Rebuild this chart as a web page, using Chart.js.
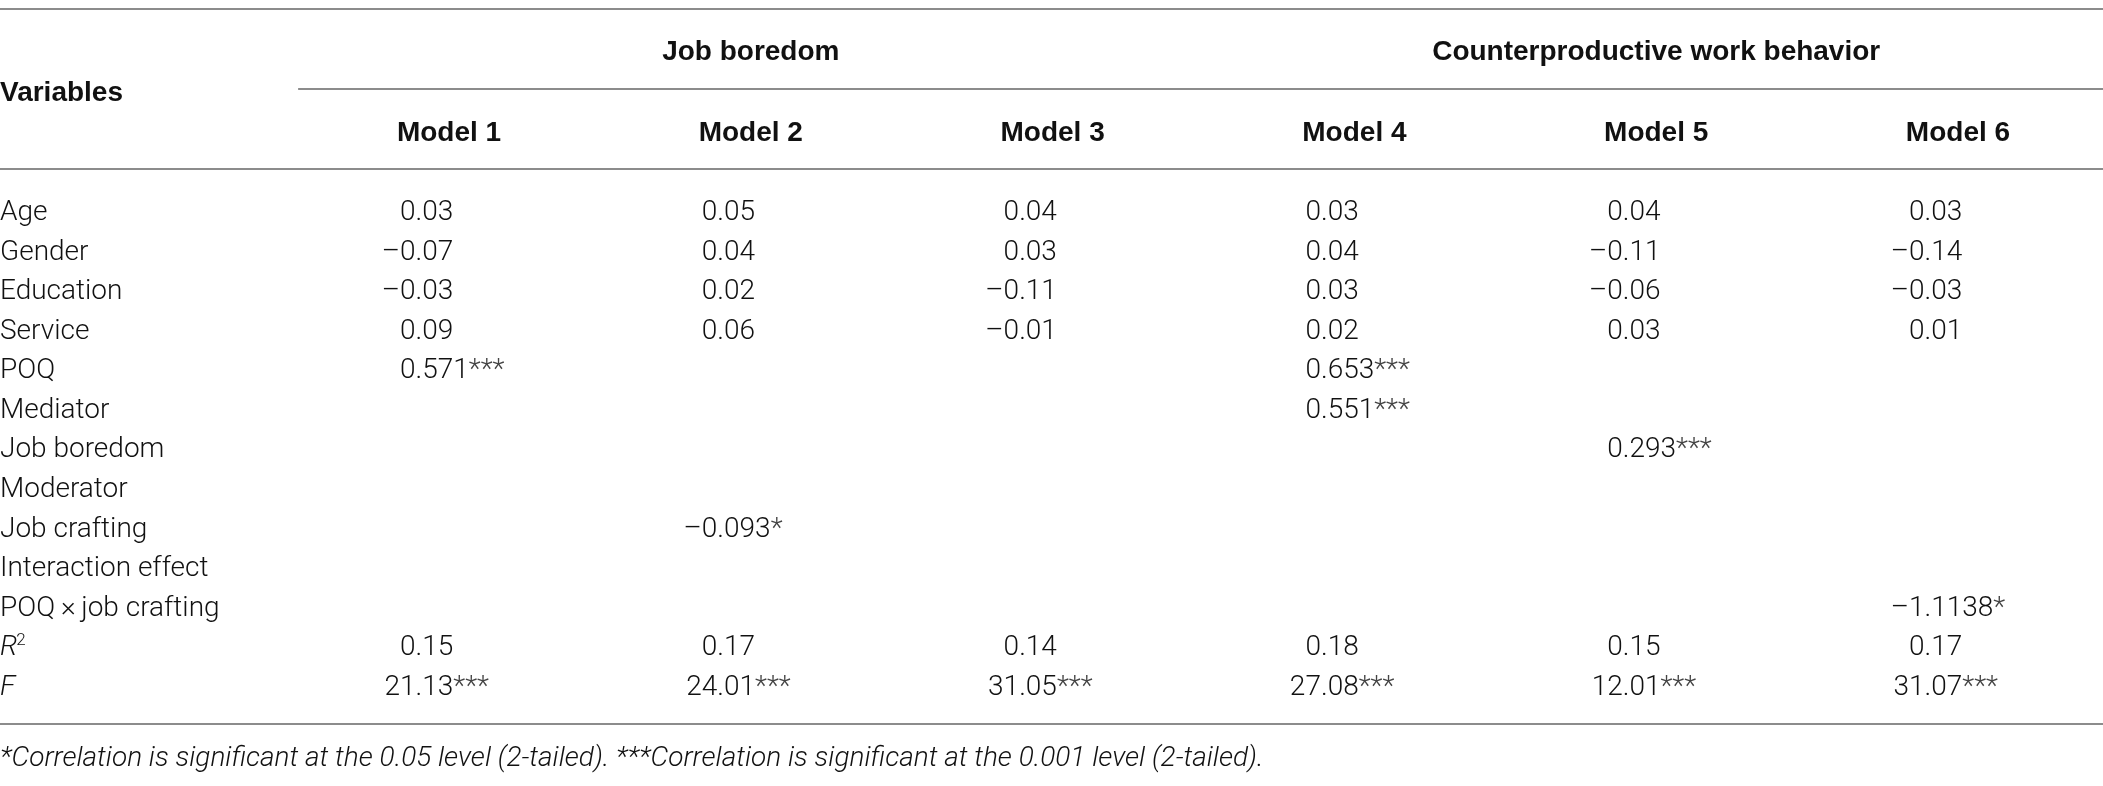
<!DOCTYPE html>
<html>
<head>
<meta charset="utf-8">
<script src="https://cdn.jsdelivr.net/npm/chart.js@4.4.0/dist/chart.umd.min.js"></script>
<style>
  html, body { margin: 0; padding: 0; background: #fff; }
  #wrap { position: relative; width: 2103px; height: 786px; }
</style>
</head>
<body>
<div id="wrap"><canvas id="table-chart"></canvas></div>
<script>
// rows of the table (left column)
const rowLabels = ['Age', 'Gender', 'Education', 'Service', 'POQ', 'Mediator', 'Job boredom',
  'Moderator', 'Job crafting', 'Interaction effect', 'POQ\u2009\u00d7\u2009job crafting', 'R\u00b2', 'F'];
const modelLabels = ['Model 1', 'Model 2', 'Model 3', 'Model 4', 'Model 5', 'Model 6'];
const groupLabels = ['Job boredom', 'Counterproductive work behavior'];
const footnote = '*Correlation is significant at the 0.05 level (2-tailed). ***Correlation is significant at the 0.001 level (2-tailed).';

// coefficients per model, null = empty cell
const model1 = [0.03, -0.07, -0.03, 0.09, 0.571, null, null, null, null, null, null, 0.15, 21.13];
const model2 = [0.05, 0.04, 0.02, 0.06, null, null, null, null, -0.093, null, null, 0.17, 24.01];
const model3 = [0.04, 0.03, -0.11, -0.01, null, null, null, null, null, null, null, 0.14, 31.05];
const model4 = [0.03, 0.04, 0.03, 0.02, 0.653, 0.551, null, null, null, null, null, 0.18, 27.08];
const model5 = [0.04, -0.11, -0.06, 0.03, null, null, 0.293, null, null, null, null, 0.15, 12.01];
const model6 = [0.03, -0.14, -0.03, 0.01, null, null, null, null, null, null, -1.1138, 0.17, 31.07];

// significance marks
const model1Sig = ['', '', '', '', '***', '', '', '', '', '', '', '', '***'];
const model2Sig = ['', '', '', '', '', '', '', '', '*', '', '', '', '***'];
const model3Sig = ['', '', '', '', '', '', '', '', '', '', '', '', '***'];
const model4Sig = ['', '', '', '', '***', '***', '', '', '', '', '', '', '***'];
const model5Sig = ['', '', '', '', '', '', '***', '', '', '', '', '', '***'];
const model6Sig = ['', '', '', '', '', '', '', '', '', '', '*', '', '***'];

const models = [model1, model2, model3, model4, model5, model6];
const sigs = [model1Sig, model2Sig, model3Sig, model4Sig, model5Sig, model6Sig];

const X_MIN = -0.4878, X_MAX = 6.4805;
const Y_MIN = -5.306, Y_MAX = 14.553;

const BODY = '300 28px Roboto, "Liberation Sans", sans-serif';
const BOLD = 'bold 28px "Liberation Sans", Arial, sans-serif';
const ITAL = 'italic 300 28px Roboto, "Liberation Sans", sans-serif';
const INK = '#111';

function fmt(v) {
  return (v < 0 ? '\u2013' : '') + String(Math.abs(v));
}

const ctx = document.getElementById('table-chart').getContext('2d');

const tablePlugin = {
  id: 'tableText',
  afterDatasetsDraw(chart) {
    const { ctx, chartArea, scales: { x, y } } = chart;
    const base = 10; // offset from row centre to baseline
    ctx.save();
    ctx.textBaseline = 'alphabetic';

    // horizontal rules
    ctx.strokeStyle = '#8c8c8c';
    ctx.lineWidth = 2;
    const rule = (v, x0) => {
      const py = Math.round(y.getPixelForValue(v));
      ctx.beginPath();
      ctx.moveTo(x0, py);
      ctx.lineTo(chartArea.right, py);
      ctx.stroke();
    };
    rule(-5.08, chartArea.left);
    rule(-3.05, x.getPixelForValue(0.5));
    rule(-1.04, chartArea.left);
    rule(12.99, chartArea.left);

    // headers
    ctx.fillStyle = INK;
    ctx.font = BOLD;
    ctx.textAlign = 'left';
    ctx.fillText('Variables', chartArea.left, y.getPixelForValue(-3) + base);
    ctx.textAlign = 'center';
    ctx.fillText(groupLabels[0], x.getPixelForValue(2), y.getPixelForValue(-4.04) + base);
    ctx.fillText(groupLabels[1], x.getPixelForValue(5), y.getPixelForValue(-4.04) + base);
    modelLabels.forEach((m, k) => {
      ctx.fillText(m, x.getPixelForValue(k + 1), y.getPixelForValue(-2) + base);
    });

    // cells
    chart.data.datasets.forEach((ds, di) => {
      const meta = chart.getDatasetMeta(di);
      meta.data.forEach((pt, i) => {
        const raw = ds.data[i];
        const py = pt.y + base;
        ctx.textAlign = 'left';
        if (raw.label !== undefined) {
          if (raw.label === 'R\u00b2') {
            ctx.font = ITAL;
            ctx.fillText('R', pt.x, py);
            const w = ctx.measureText('R').width;
            ctx.font = '300 17px Roboto, "Liberation Sans", sans-serif';
            ctx.fillText('2', pt.x + w - 1, py - 10);
          } else if (raw.label === 'F') {
            ctx.font = ITAL;
            ctx.fillText('F', pt.x, py);
          } else {
            ctx.font = BODY;
            ctx.fillText(raw.label, pt.x, py);
          }
          return;
        }
        ctx.font = BODY;
        const s = fmt(raw.v);
        const zeroStart = pt.x - 49;
        const start = s.startsWith('0') ? zeroStart : zeroStart - ctx.measureText(s[0]).width;
        ctx.fillText(s, start, py);
        if (raw.sig) {
          ctx.fillStyle = '#444';
          ctx.fillText(raw.sig, start + ctx.measureText(s).width, py);
          ctx.fillStyle = INK;
        }
      });
    });

    // footnote
    ctx.font = ITAL;
    ctx.textAlign = 'left';
    ctx.fillText(footnote, chartArea.left, y.getPixelForValue(13.8) + base);
    ctx.restore();
  }
};

const datasets = [{
  label: 'Variables',
  data: rowLabels.map((l, i) => ({ x: X_MIN, y: i, label: l })),
  pointRadius: 0
}];
models.forEach((vals, k) => {
  datasets.push({
    label: modelLabels[k],
    data: vals.map((v, i) => (v === null ? null : { x: k + 1, y: i, v: v, sig: sigs[k][i] }))
      .filter(d => d !== null),
    pointRadius: 0
  });
});

new Chart(ctx, {
  type: 'scatter',
  data: { datasets },
  options: {
    responsive: true,
    maintainAspectRatio: false,
    animation: false,
    layout: { padding: 0 },
    events: [],
    scales: {
      x: { type: 'linear', display: false, min: X_MIN, max: X_MAX },
      y: { type: 'linear', display: false, reverse: true, min: Y_MIN, max: Y_MAX }
    },
    plugins: {
      legend: { display: false },
      tooltip: { enabled: false }
    }
  },
  plugins: [tablePlugin]
});
</script>
</body>
</html>
